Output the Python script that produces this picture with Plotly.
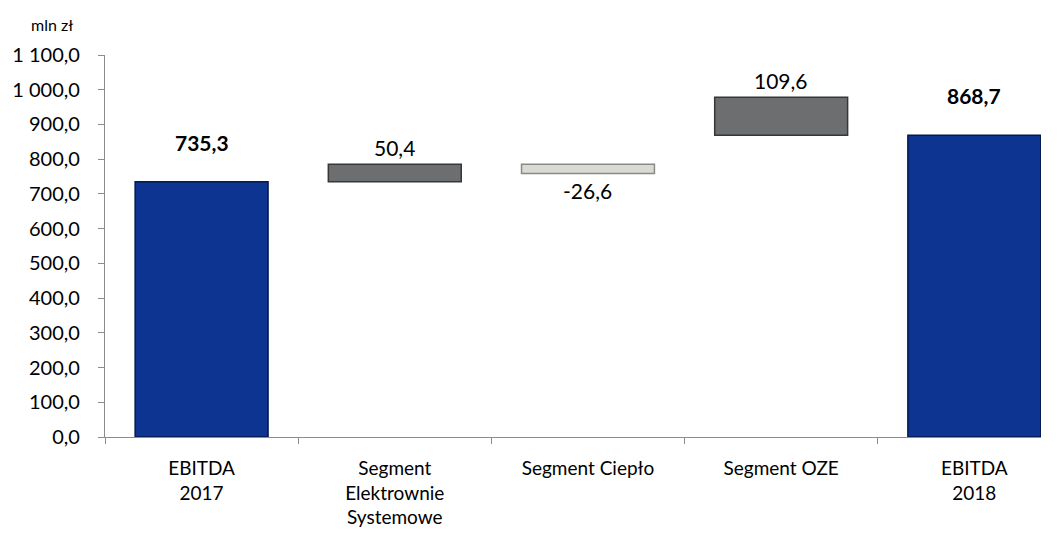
import plotly.graph_objects as go

categories = ['EBITDA<br>2017', 'Segment<br>Elektrownie<br>Systemowe', 'Segment Ciepło',
              'Segment OZE', 'EBITDA<br>2018']
values = [735.3, 50.4, -26.6, 109.6, 868.7]
# bases as drawn in the source chart
bases = [0, 735.3, 785.7, 868.7, 0]
labels = ['735,3', '50,4', '-26,6', '109,6', '868,7']
y_ticks = [0, 100, 200, 300, 400, 500, 600, 700, 800, 900, 1000, 1100]

FONT = 'Lato, Calibri, Carlito, sans-serif'

colors = ['#0c3490', '#6c6e70', '#d9d9d5', '#6c6e70', '#0c3490']
lines = ['#05184f', '#353739', '#8a8a86', '#353739', '#05184f']

fig = go.Figure(go.Bar(
    x=categories, y=values, base=bases, width=0.688,
    marker=dict(color=colors, line=dict(color=lines, width=1.5)),
    hoverinfo='skip'))

for i, cat in enumerate(categories):
    v = values[i]
    b = bases[i]
    top = b + max(v, 0)
    bold = (b == 0)
    if v < 0:
        fig.add_annotation(x=cat, y=b, text=labels[i], showarrow=False,
                           yanchor='top', yshift=-12,
                           font=dict(size=21, color='black', family=FONT))
    else:
        fig.add_annotation(x=cat, y=top, text='<b>' + labels[i] + '</b>' if bold else labels[i],
                           showarrow=False, yanchor='bottom', yshift=25 if bold else 2,
                           font=dict(size=21, color='black', family=FONT))

fig.add_annotation(x=-0.057, y=1.08, xref='paper', yref='paper', text='mln zł',
                   showarrow=False, xanchor='center', yanchor='middle',
                   font=dict(size=16, color='black', family=FONT))

fig.update_layout(
    width=1052, height=529,
    margin=dict(l=97, r=19, t=47, b=100),
    plot_bgcolor='white', paper_bgcolor='white',
    separators=', ',
    showlegend=False,
    font=dict(family=FONT, size=19, color='black'),
    xaxis=dict(range=[-0.5, 4.345], showline=True, linecolor='#8c8c8c', linewidth=1.2,
               automargin=False, ticks='outside', tickson='boundaries', ticklen=6,
               tickcolor='#8c8c8c', ticklabelstandoff=14,
               tickfont=dict(size=19, color='black'), showgrid=False),
    yaxis=dict(range=[0, 1100], tickvals=y_ticks, tickformat=',.1f', automargin=False,
               showline=True, linecolor='#8c8c8c', linewidth=1.2,
               ticks='outside', ticklen=6, tickcolor='#8c8c8c', showgrid=False,
               ticklabelstandoff=14,
               zeroline=False, tickfont=dict(size=20, color='black')),
)

fig.write_html('out.html')
